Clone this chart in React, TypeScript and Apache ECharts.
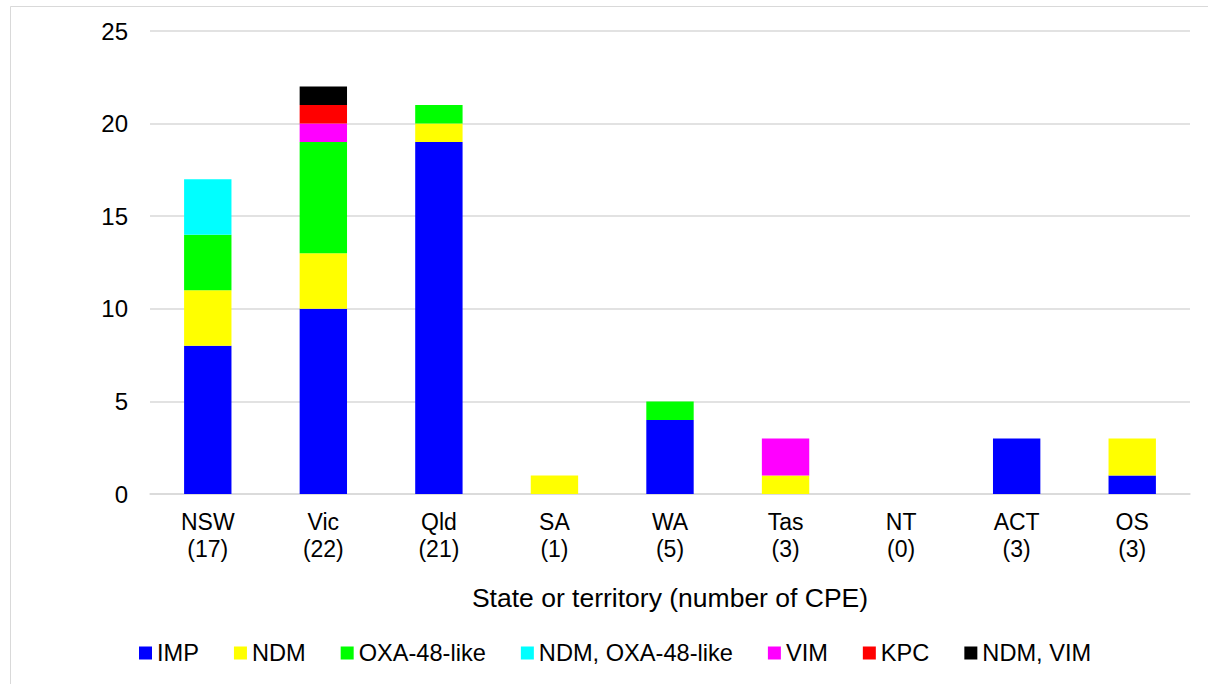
import React, { useEffect, useRef } from "react";
import * as echarts from "echarts";

const categories = ["NSW\n(17)", "Vic\n(22)", "Qld\n(21)", "SA\n(1)", "WA\n(5)", "Tas\n(3)", "NT\n(0)", "ACT\n(3)", "OS\n(3)"];
const seriesNames = ["IMP", "NDM", "OXA-48-like", "NDM, OXA-48-like", "VIM", "KPC", "NDM, VIM"];
const seriesColors = ["#0000FF", "#FFFF00", "#00FF00", "#00FFFF", "#FF00FF", "#FF0000", "#000000"];
const imp = [8, 10, 19, 0, 4, 0, 0, 3, 1];
const ndm = [3, 3, 1, 1, 0, 1, 0, 0, 2];
const oxa = [3, 6, 1, 0, 1, 0, 0, 0, 0];
const ndmOxa = [3, 0, 0, 0, 0, 0, 0, 0, 0];
const vim = [0, 1, 0, 0, 0, 2, 0, 0, 0];
const kpc = [0, 1, 0, 0, 0, 0, 0, 0, 0];
const ndmVim = [0, 1, 0, 0, 0, 0, 0, 0, 0];
const seriesValues = [imp, ndm, oxa, ndmOxa, vim, kpc, ndmVim];
const yTicks = [0, 5, 10, 15, 20, 25];

const FONT = "'Liberation Sans', Arial, sans-serif";

export default function App() {
  const ref = useRef<HTMLDivElement>(null);
  useEffect(() => {
    document.body.style.margin = "0";
    const chart = echarts.init(ref.current!, null, { renderer: "svg" });
    chart.setOption({
      animation: false,
      backgroundColor: "#ffffff",
      textStyle: { fontFamily: FONT },
      graphic: [
        {
          type: "rect",
          shape: { x: 10.5, y: 6.5, width: 1400, height: 900 },
          style: { fill: "none", stroke: "#d9d9d9", lineWidth: 1 },
          silent: true,
          z: -1,
        },
      ],
      grid: { left: 150, right: 18, top: 31, bottom: 190, containLabel: false },
      legend: {
        left: 139,
        top: 641,
        padding: 0,
        icon: "rect",
        itemWidth: 13,
        itemHeight: 13,
        itemGap: 35,
        textStyle: { fontSize: 23.6, color: "#000", fontFamily: FONT },
        data: seriesNames,
      },
      xAxis: {
        type: "category",
        data: categories,
        name: "State or territory (number of CPE)",
        nameLocation: "middle",
        nameGap: 90,
        nameTextStyle: { fontSize: 26.5, color: "#000", fontFamily: FONT },
        axisLine: { lineStyle: { color: "#d9d9d9", width: 1.5 } },
        axisTick: { show: false },
        axisLabel: { fontSize: 23, color: "#000", lineHeight: 27, margin: 14, fontFamily: FONT, interval: 0 },
      },
      yAxis: {
        type: "value",
        min: yTicks[0],
        max: yTicks[yTicks.length - 1],
        interval: 5,
        axisLine: { show: false },
        axisTick: { show: false },
        splitLine: { lineStyle: { color: "#d9d9d9", width: 1.5 } },
        axisLabel: { fontSize: 24, color: "#000", margin: 22, fontFamily: FONT },
      },
      series: seriesNames.map((name, i) => ({
        name,
        type: "bar",
        stack: "total",
        barWidth: "41%",
        itemStyle: { color: seriesColors[i] },
        data: seriesValues[i],
      })),
    });
    return () => chart.dispose();
  }, []);
  return <div ref={ref} style={{ position: "absolute", left: 0, top: 0, width: 1208, height: 684 }} />;
}
